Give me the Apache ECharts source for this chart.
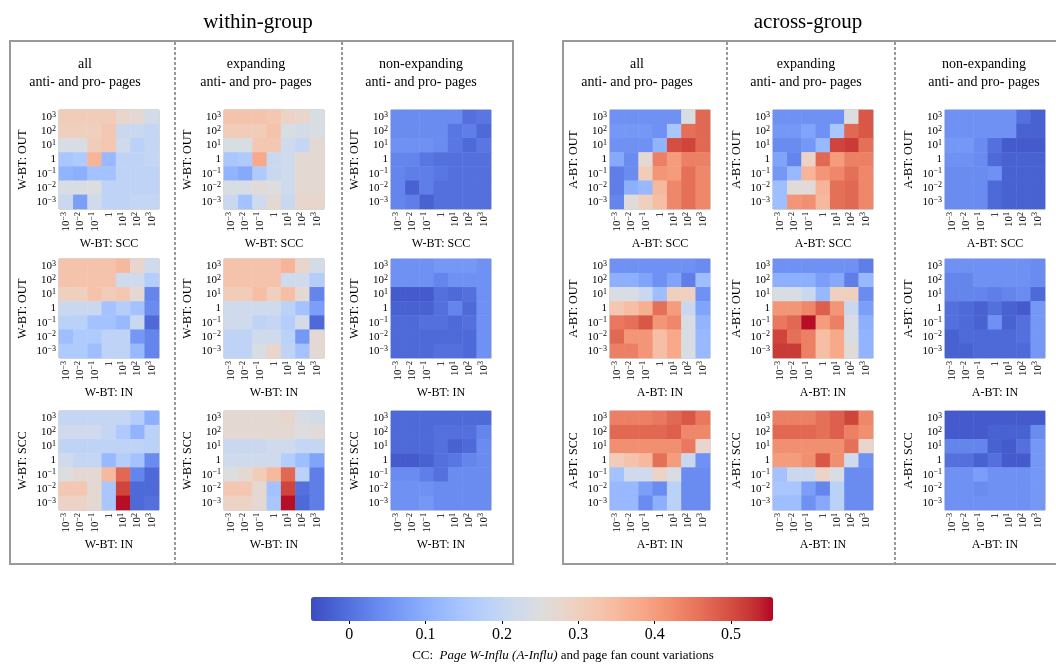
<!DOCTYPE html>
<html>
<head>
<meta charset="utf-8">
<script src="https://cdn.jsdelivr.net/npm/echarts@6/dist/echarts.min.js"></script>
<style>html,body{margin:0;padding:0;background:#fff;}#c{width:1056px;height:664px;}</style>
</head>
<body>
<div id="c"></div>
<script>
// ---- tick labels (x: left->right, y: bottom->top) ----
const tickLabels = ['10⁻³','10⁻²','10⁻¹','1','10¹','10²','10³'];
const tickExps = [-3, -2, -1, 0, 1, 2, 3];
const cbarTicks = [0, 0.1, 0.2, 0.3, 0.4, 0.5];
const cbarMin = -0.05, cbarMax = 0.555;

// ---- matrices: rows top (10³) -> bottom (10⁻³), cols left (10⁻³) -> right (10³) ----
// within-group
const wAllOutScc = [
 [0.31,0.31,0.31,0.31,0.28,0.27,0.23],
 [0.30,0.30,0.30,0.32,0.21,0.21,0.20],
 [0.24,0.24,0.31,0.32,0.22,0.18,0.20],
 [0.15,0.16,0.36,0.12,0.19,0.19,0.20],
 [0.11,0.10,0.14,0.14,0.19,0.19,0.19],
 [0.24,0.24,0.25,0.19,0.19,0.19,0.19],
 [0.21,0.07,0.22,0.19,0.19,0.20,0.20]];
const wExpOutScc = [
 [0.33,0.33,0.33,0.32,0.29,0.28,0.24],
 [0.31,0.31,0.31,0.33,0.24,0.23,0.24],
 [0.24,0.24,0.32,0.32,0.22,0.20,0.27],
 [0.15,0.16,0.38,0.21,0.22,0.27,0.27],
 [0.11,0.09,0.16,0.21,0.22,0.27,0.27],
 [0.24,0.24,0.26,0.25,0.22,0.27,0.27],
 [0.21,0.14,0.22,0.27,0.21,0.28,0.28]];
const wNonOutScc = [
 [0.04,0.04,0.04,0.04,0.04,0.00,0.01],
 [0.04,0.04,0.04,0.04,0.01,0.02,-0.01],
 [0.05,0.05,0.05,0.04,0.01,-0.01,0.01],
 [0.03,0.03,0.01,0.00,0.00,0.00,0.00],
 [0.03,0.02,0.02,0.01,0.00,0.00,0.00],
 [0.03,-0.02,0.02,0.00,0.00,0.00,0.00],
 [0.03,0.02,-0.02,0.00,0.00,0.00,0.00]];
const wAllOutIn = [
 [0.33,0.33,0.33,0.33,0.35,0.28,0.22],
 [0.33,0.33,0.33,0.33,0.22,0.22,0.17],
 [0.30,0.30,0.33,0.31,0.32,0.27,0.03],
 [0.21,0.21,0.21,0.14,0.17,0.14,0.04],
 [0.18,0.18,0.14,0.14,0.12,0.21,-0.01],
 [0.13,0.16,0.16,0.19,0.19,0.06,0.03],
 [0.16,0.16,0.13,0.19,0.19,0.12,0.03]];
const wExpOutIn = [
 [0.33,0.33,0.33,0.33,0.36,0.28,0.23],
 [0.33,0.33,0.33,0.33,0.22,0.22,0.17],
 [0.31,0.31,0.34,0.30,0.34,0.27,0.03],
 [0.22,0.22,0.22,0.22,0.18,0.14,0.07],
 [0.22,0.22,0.19,0.20,0.17,0.23,-0.01],
 [0.19,0.19,0.22,0.22,0.18,0.06,0.27],
 [0.19,0.19,0.24,0.28,0.19,0.14,0.27]];
const wNonOutIn = [
 [0.05,0.05,0.05,0.06,0.06,0.06,0.05],
 [0.05,0.05,0.05,0.03,0.05,0.05,0.05],
 [-0.03,-0.03,-0.03,0.00,-0.01,0.00,0.05],
 [-0.02,-0.02,-0.02,0.00,0.03,-0.01,0.05],
 [-0.01,-0.01,0.00,0.00,-0.01,0.00,0.05],
 [-0.01,-0.01,-0.01,-0.01,-0.01,-0.01,0.05],
 [-0.01,-0.01,-0.01,0.00,0.00,-0.01,0.05]];
const wAllSccIn = [
 [0.20,0.20,0.20,0.20,0.20,0.17,0.10],
 [0.22,0.22,0.22,0.20,0.16,0.11,0.18],
 [0.19,0.19,0.19,0.19,0.19,0.19,0.18],
 [0.22,0.20,0.20,0.12,0.17,0.14,0.04],
 [0.25,0.27,0.27,0.35,0.47,0.03,-0.01],
 [0.32,0.32,0.27,0.15,0.51,-0.01,-0.01],
 [0.29,0.29,0.27,0.15,0.55,-0.01,0.00]];
const wExpSccIn = [
 [0.27,0.27,0.27,0.27,0.28,0.24,0.23],
 [0.27,0.27,0.27,0.27,0.27,0.25,0.26],
 [0.21,0.21,0.21,0.22,0.22,0.20,0.20],
 [0.22,0.22,0.22,0.22,0.17,0.13,0.08],
 [0.25,0.27,0.31,0.35,0.47,0.18,0.02],
 [0.32,0.32,0.27,0.14,0.51,0.00,0.02],
 [0.29,0.29,0.27,0.15,0.55,-0.01,0.02]];
const wNonSccIn = [
 [-0.01,-0.01,-0.01,-0.01,-0.01,-0.01,-0.01],
 [-0.01,-0.01,-0.01,0.00,0.00,0.00,0.03],
 [-0.01,-0.01,-0.01,0.00,-0.02,-0.01,0.04],
 [-0.03,-0.03,-0.02,0.00,0.01,0.03,0.04],
 [0.04,0.04,0.02,0.00,0.04,0.04,0.04],
 [0.05,0.05,0.05,0.04,0.04,0.04,0.04],
 [0.05,0.05,0.06,0.04,0.04,0.04,0.04]];
// across-group
const aAllOutScc = [
 [0.05,0.05,0.05,0.05,0.05,0.24,0.47],
 [0.06,0.06,0.06,0.05,0.15,0.46,0.47],
 [0.05,0.05,0.05,0.11,0.50,0.51,0.47],
 [0.09,0.04,0.27,0.44,0.40,0.44,0.44],
 [0.02,0.04,0.31,0.41,0.40,0.46,0.43],
 [0.02,0.10,0.12,0.35,0.43,0.46,0.43],
 [0.03,0.26,0.30,0.34,0.43,0.46,0.43]];
const aExpOutScc = [
 [0.05,0.05,0.05,0.05,0.05,0.25,0.49],
 [0.06,0.06,0.08,0.05,0.15,0.47,0.49],
 [0.04,0.04,0.06,0.12,0.51,0.52,0.46],
 [0.08,0.03,0.29,0.47,0.40,0.44,0.44],
 [0.06,0.12,0.36,0.41,0.43,0.46,0.43],
 [0.13,0.26,0.26,0.36,0.46,0.47,0.43],
 [0.13,0.41,0.42,0.35,0.46,0.47,0.43]];
const aNonOutScc = [
 [0.05,0.05,0.05,0.05,0.05,0.00,-0.02],
 [0.05,0.05,0.05,0.05,0.05,-0.02,-0.02],
 [0.06,0.06,0.04,0.00,-0.03,-0.03,-0.03],
 [0.05,0.05,0.04,-0.01,-0.02,-0.02,-0.02],
 [0.04,0.04,0.04,0.05,-0.02,-0.02,-0.02],
 [0.04,0.04,0.04,-0.01,-0.02,-0.02,-0.02],
 [0.04,0.04,0.04,-0.01,-0.02,-0.02,-0.02]];
const aAllOutIn = [
 [0.05,0.05,0.05,0.05,0.05,0.05,0.04],
 [0.10,0.10,0.08,0.05,0.08,0.02,0.13],
 [0.24,0.24,0.21,0.13,0.30,0.30,0.05],
 [0.32,0.34,0.37,0.46,0.40,0.21,0.08],
 [0.45,0.46,0.49,0.41,0.43,0.24,0.11],
 [0.47,0.41,0.41,0.34,0.38,0.24,0.12],
 [0.44,0.44,0.41,0.34,0.38,0.24,0.12]];
const aExpOutIn = [
 [0.05,0.05,0.05,0.05,0.05,0.05,0.02],
 [0.10,0.10,0.10,0.07,0.09,0.02,0.12],
 [0.24,0.24,0.21,0.12,0.30,0.30,0.04],
 [0.41,0.41,0.43,0.48,0.41,0.21,0.07],
 [0.45,0.47,0.55,0.40,0.44,0.24,0.10],
 [0.51,0.46,0.44,0.34,0.38,0.24,0.11],
 [0.52,0.52,0.44,0.34,0.38,0.26,0.11]];
const aNonOutIn = [
 [0.05,0.05,0.05,0.05,0.05,0.05,0.04],
 [0.03,0.03,0.05,0.05,0.05,0.05,0.04],
 [0.03,0.03,0.03,0.02,0.03,0.04,-0.01],
 [0.00,-0.01,-0.02,0.00,-0.02,-0.03,0.06],
 [0.00,-0.01,-0.02,0.05,-0.02,0.00,0.06],
 [-0.02,-0.01,-0.01,-0.01,-0.01,0.00,0.06],
 [-0.02,-0.02,-0.01,-0.01,-0.01,-0.01,0.06]];
const aAllSccIn = [
 [0.44,0.44,0.44,0.45,0.47,0.49,0.45],
 [0.47,0.47,0.47,0.47,0.48,0.43,0.43],
 [0.42,0.42,0.42,0.42,0.42,0.45,0.28],
 [0.31,0.33,0.35,0.46,0.40,0.21,0.05],
 [0.14,0.22,0.22,0.29,0.24,0.04,0.04],
 [0.12,0.12,0.07,0.04,0.18,0.04,0.04],
 [0.12,0.12,0.04,0.10,0.18,0.04,0.04]];
const aExpSccIn = [
 [0.44,0.44,0.44,0.46,0.48,0.51,0.43],
 [0.47,0.47,0.47,0.46,0.48,0.44,0.42],
 [0.42,0.42,0.42,0.42,0.42,0.46,0.28],
 [0.40,0.40,0.42,0.49,0.42,0.22,0.05],
 [0.14,0.21,0.21,0.29,0.24,0.04,0.04],
 [0.15,0.15,0.07,0.03,0.18,0.04,0.04],
 [0.13,0.13,0.05,0.09,0.18,0.04,0.04]];
const aNonSccIn = [
 [-0.03,-0.03,-0.03,-0.03,-0.03,-0.03,-0.03],
 [-0.03,-0.03,-0.03,-0.02,-0.02,-0.02,0.04],
 [0.03,0.03,0.03,-0.02,-0.03,0.00,0.06],
 [0.00,0.00,-0.02,0.00,-0.03,-0.03,0.06],
 [0.05,0.05,0.07,0.05,0.05,0.05,0.06],
 [0.05,0.05,0.04,0.05,0.05,0.05,0.06],
 [0.05,0.05,0.05,0.05,0.05,0.05,0.06]];

// ---- labels ----
const colTitles = ['all', 'expanding', 'non-expanding'];
const colSubtitle = 'anti- and pro- pages';
const groupTitles = ['within-group', 'across-group'];

// ---- coolwarm colormap ----
const coolwarm = ['#3b4cc0','#445acc','#4d68d7','#5775e1','#6282ea','#6c8ef1','#779af7','#82a5fb','#8db0fe','#98b9ff','#a3c2ff','#aec9fd','#b8d0f9','#c2d5f4','#ccd9ee','#d5dbe6','#dddddd','#e5d8d1','#ecd3c5','#f1ccb8','#f5c4ac','#f7bba0','#f7b194','#f7a687','#f49a7b','#f18d6f','#ec7f63','#e57058','#de604d','#d55042','#cb3e38','#c0282f','#b40426'];

// ---- layout ----
const FONT = '"Liberation Serif","DejaVu Serif",serif';
const colX = [[59, 224, 391], [610, 773, 945]];
const rowY = [110, 259, 411];
const CELL_W = 100, CELL_H = 99;

const mats = [
  [[wAllOutScc, wExpOutScc, wNonOutScc], [wAllOutIn, wExpOutIn, wNonOutIn], [wAllSccIn, wExpSccIn, wNonSccIn]],
  [[aAllOutScc, aExpOutScc, aNonOutScc], [aAllOutIn, aExpOutIn, aNonOutIn], [aAllSccIn, aExpSccIn, aNonSccIn]]
];
const axisNames = [
  [['W-BT: SCC', 'W-BT: OUT'], ['W-BT: IN', 'W-BT: OUT'], ['W-BT: IN', 'W-BT: SCC']],
  [['A-BT: SCC', 'A-BT: OUT'], ['A-BT: IN', 'A-BT: OUT'], ['A-BT: IN', 'A-BT: SCC']]
];

// mathtext-like tick label 10^k
function tickFmt(v, i) {
  const k = tickExps[tickLabels.indexOf(v)];
  if (k === 0) return '{b|1}';
  return '{b|10}{s|' + (k < 0 ? '\u2212' + (-k) : k) + '}';
}
const tickRich = {
  b: {fontFamily: FONT, fontSize: 11, color: '#000'},
  s: {fontFamily: FONT, fontSize: 8, color: '#000', padding: [0, 0, 5, 0]}
};

const grids = [], xAxes = [], yAxes = [], series = [];
let idx = 0;
for (let p = 0; p < 2; p++) {
  for (let r = 0; r < 3; r++) {
    for (let c = 0; c < 3; c++) {
      const m = mats[p][r][c];
      const data = [];
      for (let i = 0; i < 7; i++) for (let j = 0; j < 7; j++) data.push([j, 6 - i, m[i][j]]);
      grids.push({left: colX[p][c], top: rowY[r], width: CELL_W, height: CELL_H, show: true,
        borderColor: '#b0b0b0', borderWidth: 1, backgroundColor: 'transparent'});
      xAxes.push({type: 'category', gridIndex: idx, data: tickLabels,
        name: axisNames[p][r][0], nameLocation: 'middle', nameGap: 29,
        nameTextStyle: {fontFamily: FONT, fontSize: 12, color: '#000'},
        axisLine: {show: false}, axisTick: {show: false}, splitLine: {show: false},
        axisLabel: {rotate: 90, margin: 3, interval: 0, formatter: tickFmt, rich: tickRich}});
      yAxes.push({type: 'category', gridIndex: idx, data: tickLabels,
        name: axisNames[p][r][1], nameLocation: 'middle', nameGap: 30, nameRotate: 90,
        nameTextStyle: {fontFamily: FONT, fontSize: 12, color: '#000'},
        axisLine: {show: false}, axisTick: {show: false}, splitLine: {show: false},
        axisLabel: {margin: 3, interval: 0, formatter: tickFmt, rich: tickRich}});
      series.push({type: 'heatmap', xAxisIndex: idx, yAxisIndex: idx, data: data,
        itemStyle: {borderWidth: 0}, emphasis: {disabled: true}, silent: true, progressive: 0});
      idx++;
    }
  }
}
// colorbar tick axis
const cbIdx = idx;
grids.push({left: 311, top: 597, width: 462, height: 24});
xAxes.push({type: 'value', gridIndex: cbIdx, min: cbarMin, max: cbarMax,
  axisLine: {show: false}, splitLine: {show: false},
  axisTick: {show: true, customValues: cbarTicks, length: 3, lineStyle: {color: '#000'}},
  axisLabel: {customValues: cbarTicks, margin: 6, fontFamily: FONT, fontSize: 16, color: '#000',
    formatter: v => String(Math.round(v * 10) / 10)}});
yAxes.push({type: 'value', gridIndex: cbIdx, show: false});

const graphics = [];
const frameStyle = {stroke: '#999', lineWidth: 2, fill: null};
graphics.push({type: 'rect', shape: {x: 10, y: 41, width: 503, height: 523}, style: frameStyle, silent: true});
graphics.push({type: 'rect', shape: {x: 563, y: 41, width: 500, height: 523}, style: frameStyle, silent: true});
[175, 342, 727, 895].forEach(x => graphics.push({type: 'line', shape: {x1: x, y1: 42, x2: x, y2: 563},
  style: {stroke: '#999', lineWidth: 2, lineDash: [3, 2]}, silent: true}));
function txt(t, x, y, size, extra) {
  return Object.assign({type: 'text', silent: true, style: Object.assign({text: t, x: x, y: y,
    font: size + 'px ' + FONT, fontSize: size, fontFamily: FONT, fill: '#000',
    align: 'center', verticalAlign: 'middle', textAlign: 'center', textVerticalAlign: 'middle'}, extra || {})});
}
graphics.push(txt(groupTitles[0], 258, 22, 21));
graphics.push(txt(groupTitles[1], 808, 22, 21));
const titleX = [[85, 256, 421], [637, 806, 984]];
for (let p = 0; p < 2; p++) for (let c = 0; c < 3; c++) {
  graphics.push(txt(colTitles[c], titleX[p][c], 64, 14));
  graphics.push(txt(colSubtitle, titleX[p][c], 82, 14));
}
graphics.push(txt('CC:  {i|Page W-Influ (A-Influ)} and page fan count variations', 563, 656, 13, {
  rich: {i: {fontStyle: 'italic', fontSize: 13, fontFamily: FONT, fill: '#000'}}}));

const chart = echarts.init(document.getElementById('c'), null, {renderer: 'canvas'});
chart.setOption({
  animation: false,
  backgroundColor: '#fff',
  grid: grids, xAxis: xAxes, yAxis: yAxes, series: series,
  visualMap: {type: 'continuous', min: cbarMin, max: cbarMax, seriesIndex: series.map((s, i) => i),
    orient: 'horizontal', left: 311, top: 597, itemWidth: 24, itemHeight: 462, padding: 0,
    calculable: false, realtime: false, hoverLink: false, text: null, showLabel: false,
    inRange: {color: coolwarm}},
  graphic: graphics
});
</script>
</body>
</html>
